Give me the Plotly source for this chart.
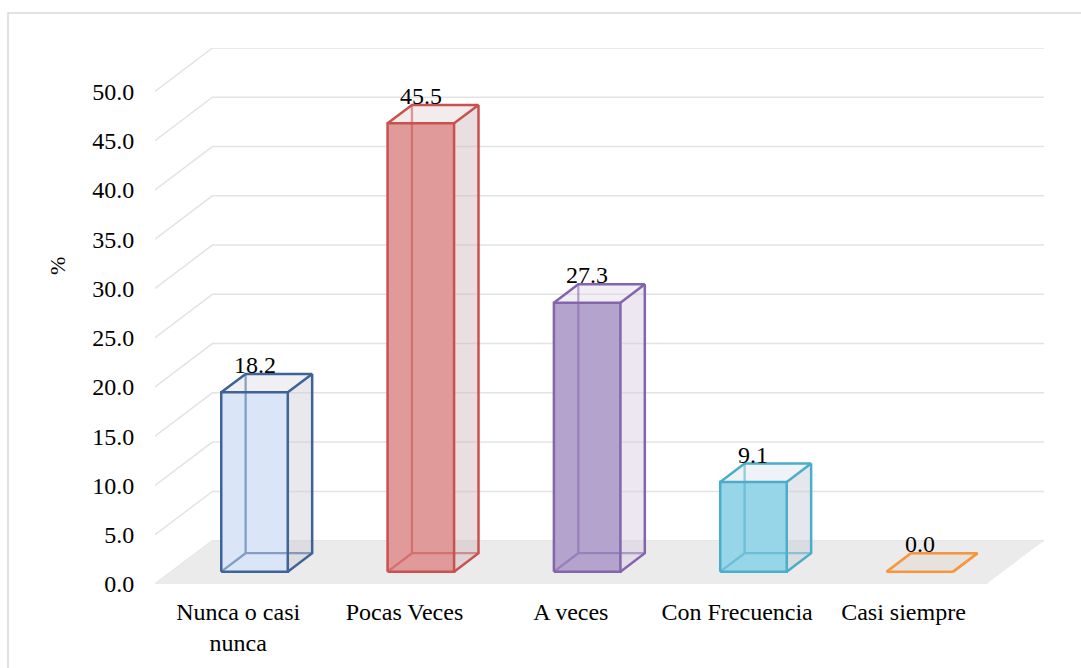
import plotly.graph_objects as go

# ---------------- data ----------------
categories = ["Nunca o casi<br>nunca", "Pocas Veces", "A veces", "Con Frecuencia", "Casi siempre"]
values = [18.2, 45.5, 27.3, 9.1, 0.0]
y_ticks = [0, 5, 10, 15, 20, 25, 30, 35, 40, 45, 50]
y_tick_labels = [f"{v:.1f}" for v in y_ticks]
y_title = "%"

# ---------------- style ----------------
FRONT = ["#dae6f8", "#e09a99", "#b3a3cd", "#96d6e8", "#f4dcc8"]
EDGE = ["#3e6397", "#c9514f", "#8465ac", "#4badc8", "#f7963f"]
SIDE = ["rgba(200,200,212,0.42)", "rgba(208,183,186,0.45)", "rgba(212,202,224,0.45)",
        "rgba(195,205,215,0.45)", "rgba(220,205,195,0.40)"]
TOP = ["rgba(215,215,228,0.40)", "rgba(225,205,207,0.40)", "rgba(220,212,232,0.40)",
       "rgba(215,222,232,0.40)", "rgba(225,215,205,0.45)"]
FONT = "Liberation Serif"
FS = 24

# oblique 3D projection (depth vector in axis units)
DX, DY = 0.345, 4.4
ZF, ZB = 0.285, 0.71     # bar depth position (front / back), fraction of floor depth
HW = 0.2                 # half bar width in category units
N = len(categories)


def proj(x, y, z):
    return x + z * DX, y + z * DY


def xy(points):
    xs, ys = [], []
    for p in points:
        if p is None:
            xs.append(None)
            ys.append(None)
        else:
            xs.append(p[0])
            ys.append(p[1])
    return xs, ys


fig = go.Figure()

# gridlines: left wall diagonals + back wall horizontals
for v in y_ticks:
    xs, ys = xy([proj(0, v, 0), proj(0, v, 1), proj(N, v, 1)])
    fig.add_trace(go.Scatter(x=xs, y=ys, mode="lines", line=dict(color="#e3e3e3", width=1.5),
                             hoverinfo="skip", showlegend=False))

# floor
xs, ys = xy([proj(0, 0, 0), proj(N, 0, 0), proj(N, 0, 1), proj(0, 0, 1), proj(0, 0, 0)])
fig.add_trace(go.Scatter(x=xs, y=ys, mode="lines", fill="toself", fillcolor="#ebebeb",
                         line=dict(width=0, color="#ebebeb"), hoverinfo="skip", showlegend=False))

annotations = []
for i, v in enumerate(values):
    c = i + 0.5
    xl, xr = c - HW, c + HW
    fbl, fbr = proj(xl, 0, ZF), proj(xr, 0, ZF)
    ftl, ftr = proj(xl, v, ZF), proj(xr, v, ZF)
    bbl, bbr = proj(xl, 0, ZB), proj(xr, 0, ZB)
    btl, btr = proj(xl, v, ZB), proj(xr, v, ZB)

    # right side face
    xs, ys = xy([fbr, bbr, btr, ftr, fbr])
    fig.add_trace(go.Scatter(x=xs, y=ys, mode="lines", fill="toself", fillcolor=SIDE[i],
                             line=dict(width=0), hoverinfo="skip", showlegend=False))
    # top face
    xs, ys = xy([ftl, ftr, btr, btl, ftl])
    fig.add_trace(go.Scatter(x=xs, y=ys, mode="lines", fill="toself", fillcolor=TOP[i],
                             line=dict(width=0), hoverinfo="skip", showlegend=False))
    # front face
    if v > 0:
        xs, ys = xy([fbl, fbr, ftr, ftl, fbl])
        fig.add_trace(go.Scatter(x=xs, y=ys, mode="lines", fill="toself", fillcolor=FRONT[i],
                                 line=dict(width=0), hoverinfo="skip", showlegend=False))
    # hidden edges (seen through)
    xs, ys = xy([fbl, bbl, bbr, None, bbl, btl])
    fig.add_trace(go.Scatter(x=xs, y=ys, mode="lines", line=dict(color=EDGE[i], width=2.3),
                             opacity=0.55, hoverinfo="skip", showlegend=False))
    # visible edges
    xs, ys = xy([fbl, fbr, ftr, ftl, fbl, None,
                 ftl, btl, btr, ftr, None,
                 fbr, bbr, btr])
    fig.add_trace(go.Scatter(x=xs, y=ys, mode="lines", line=dict(color=EDGE[i], width=2.5),
                             hoverinfo="skip", showlegend=False))

    lx, _ = proj(c, v, ZF)
    annotations.append(dict(x=lx, y=v + ZB * DY, xref="x", yref="y", text=f"{v:.1f}",
                            showarrow=False, yanchor="bottom", xanchor="center", yshift=-6,
                            font=dict(family=FONT, size=FS, color="black")))

# y-axis title
L, R, T, B = 155, 37, 48, 84
W, H = 1081, 668
pw, ph = W - L - R, H - T - B
annotations.append(dict(x=(57 - L) / pw, y=(H - B - 266) / ph, xref="paper", yref="paper",
                        xanchor="center", yanchor="middle",
                        text=y_title, textangle=-90, showarrow=False,
                        font=dict(family=FONT, size=22, color="black")))

# outer chart frame
shapes = [dict(type="rect", xref="paper", yref="paper",
               x0=(8 - L) / pw, x1=(W + 10 - L) / pw,
               y0=(H - B - (H + 10)) / ph, y1=(H - B - 13) / ph,
               line=dict(color="#d9d9d9", width=1.5), fillcolor="rgba(0,0,0,0)", layer="below")]

fig.update_layout(
    width=W, height=H,
    margin=dict(l=L, r=R, t=T, b=B, pad=0, autoexpand=False),
    paper_bgcolor="white", plot_bgcolor="white",
    showlegend=False,
    annotations=annotations,
    shapes=shapes,
    xaxis=dict(range=[0, N + DX], tickvals=[i + 0.5 for i in range(N)], ticktext=categories,
               showgrid=False, zeroline=False, showline=False, ticks="outside", ticklen=6,
               tickcolor="rgba(0,0,0,0)", tickfont=dict(family=FONT, size=FS, color="black"),
               automargin=False, fixedrange=True),
    yaxis=dict(range=[0, 50 + DY], tickvals=y_ticks, ticktext=y_tick_labels,
               showgrid=False, zeroline=False, showline=False, ticks="outside", ticklen=15,
               tickcolor="rgba(0,0,0,0)", tickfont=dict(family=FONT, size=FS, color="black"),
               automargin=False, fixedrange=True),
)

fig.write_html("out.html")
